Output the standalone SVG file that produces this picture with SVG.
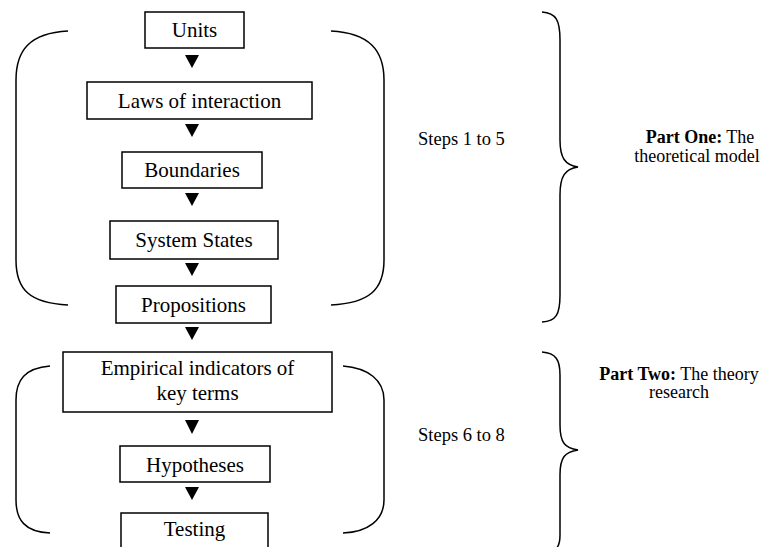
<svg xmlns="http://www.w3.org/2000/svg" width="774" height="547" viewBox="0 0 774 547">
<style>
.box{fill:#fff;stroke:#000;stroke-width:1.5}
.t{font-family:"Liberation Serif","Times New Roman",serif;font-size:21px;fill:#000;text-anchor:middle}
.s{font-family:"Liberation Serif","Times New Roman",serif;font-size:18.5px;fill:#000}
.p{font-family:"Liberation Serif","Times New Roman",serif;font-size:18px;fill:#000;text-anchor:middle}
.br{fill:none;stroke:#000;stroke-width:1.5}
.ah{fill:#000}
</style>
<rect width="774" height="547" fill="#fff"/>
<g id="brackets">
<path class="br" d="M68 31 C30 33 16 50 16 80 L16 260 C16 290 30 303 68 305"/>
<path class="br" d="M331 31 C369 33 384 50 384 80 L384 260 C384 290 369 303 331 305"/>
<path class="br" d="M50 366 C25 368 16 380 16 400 L16 500 C16 520 25 532 50 533"/>
<path class="br" d="M343 366 C368 368 384 380 384 400 L384 500 C384 520 368 532 343 533"/>
<path class="br" d="M542 12 C556 13 560 20 560 40 L560 140 C560 158 565 165 578 167 C565 169 560 176 560 195 L560 295 C560 315 556 321 542 322"/>
<path class="br" d="M542 352 C556 353 560 360 560 375 L560 425 C560 443 565 448 578 450 C565 452 560 457 560 475 L560 535 C560 548 556 552 542 553"/>
</g>
<g id="connectors">
<path class="ah" d="M185 55 L199 55 L192 68 Z"/>
<path class="ah" d="M185 124 L199 124 L192 137 Z"/>
<path class="ah" d="M185 193 L199 193 L192 206 Z"/>
<path class="ah" d="M185 263 L199 263 L192 276 Z"/>
<path class="ah" d="M185 327 L199 327 L192 340 Z"/>
<path class="ah" d="M185 420 L199 420 L192 434 Z"/>
<path class="ah" d="M185 487 L199 487 L192 500 Z"/>
</g>
<g id="units"><rect class="box" x="145" y="12" width="99" height="36"/><text class="t" x="194.5" y="37">Units</text></g>
<g id="laws"><rect class="box" x="87" y="82" width="225" height="37"/><text class="t" x="199.5" y="108">Laws of interaction</text></g>
<g id="boundaries"><rect class="box" x="122" y="152" width="140" height="36"/><text class="t" x="192" y="177">Boundaries</text></g>
<g id="system-states"><rect class="box" x="110" y="221" width="168" height="38"/><text class="t" x="194" y="247">System States</text></g>
<g id="propositions"><rect class="box" x="116" y="286" width="155" height="37"/><text class="t" x="193.5" y="312">Propositions</text></g>
<g id="empirical"><rect class="box" x="63" y="352" width="269" height="60"/><text class="t" x="197.5" y="375">Empirical indicators of</text><text class="t" x="197.5" y="400">key terms</text></g>
<g id="hypotheses"><rect class="box" x="120" y="446" width="150" height="36"/><text class="t" x="195" y="472">Hypotheses</text></g>
<g id="testing"><rect class="box" x="121" y="513" width="147" height="50"/><text class="t" x="194.5" y="536">Testing</text></g>
<g id="labels">
<text class="s" x="418" y="145">Steps 1 to 5</text>
<text class="s" x="418" y="441">Steps 6 to 8</text>
<text class="p" x="700" y="143"><tspan font-weight="bold">Part One:</tspan> The</text>
<text class="p" x="697" y="162">theoretical model</text>
<text class="p" x="679" y="380"><tspan font-weight="bold">Part Two:</tspan> The theory</text>
<text class="p" x="679" y="398">research</text>
</g>
</svg>
